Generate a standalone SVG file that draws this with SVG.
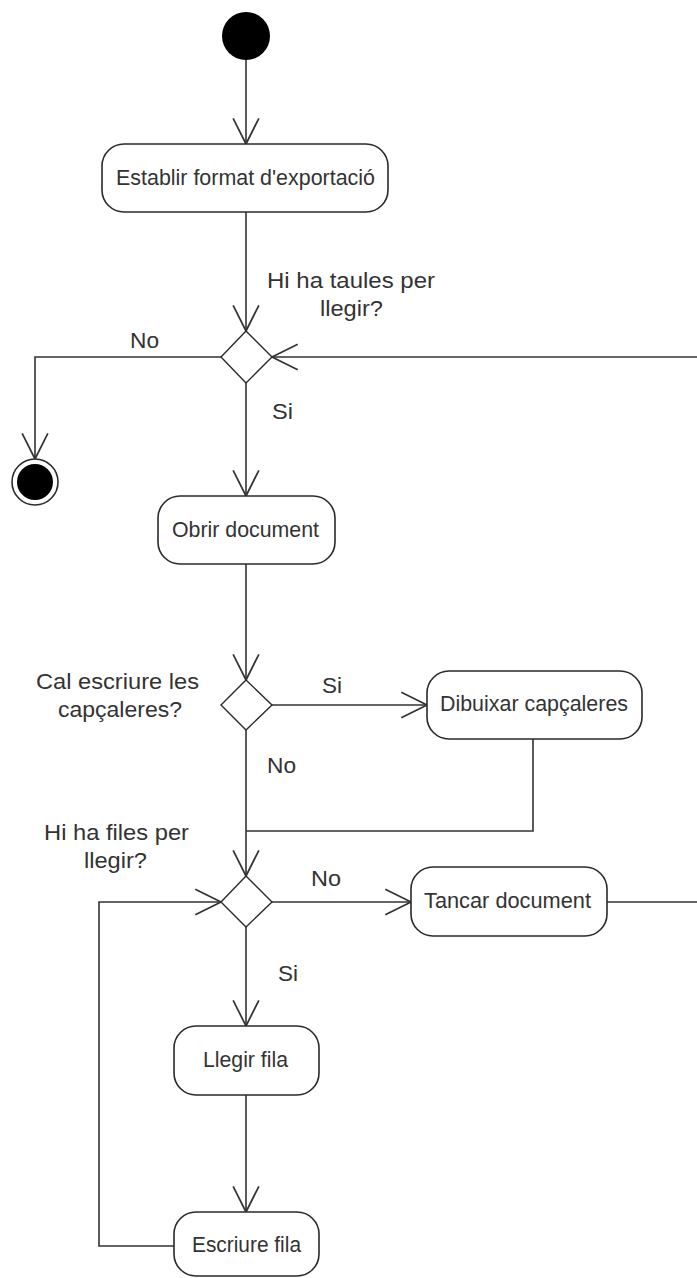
<svg xmlns="http://www.w3.org/2000/svg" width="697" height="1278" viewBox="0 0 697 1278">
  <style>
    .act { fill: #ffffff; stroke: #2a2a2a; stroke-width: 1.6; }
    .dec { fill: #ffffff; stroke: #2a2a2a; stroke-width: 1.4; }
    .edge { fill: none; stroke: #333333; stroke-width: 1.6; }
    text { font-family: "Liberation Sans", Arial, sans-serif; font-size: 22px; fill: #333333; }
  </style>
  <defs>
    <marker id="open" markerUnits="userSpaceOnUse" markerWidth="30" markerHeight="30" viewBox="-26 -14 28 28" refX="0" refY="0" orient="auto">
      <path d="M -24,-12 L 0,0 L -24,12" fill="none" stroke="#333333" stroke-width="1.6"/>
    </marker>
  </defs>

  <rect width="697" height="1278" fill="#ffffff"/>

  <!-- connectors -->
  <g id="connectors">
    <path class="edge" d="M246,60 V144" marker-end="url(#open)"/>
    <path class="edge" d="M246,212 V331" marker-end="url(#open)"/>
    <path class="edge" d="M221,357 H35 V459" marker-end="url(#open)"/>
    <path class="edge" d="M697,357 H272" marker-end="url(#open)"/>
    <path class="edge" d="M246,383 V496" marker-end="url(#open)"/>
    <path class="edge" d="M246,564 V680" marker-end="url(#open)"/>
    <path class="edge" d="M272,705 H427" marker-end="url(#open)"/>
    <path class="edge" d="M246,730 V876" marker-end="url(#open)"/>
    <path class="edge" d="M533,739 V831 H246"/>
    <path class="edge" d="M272,902 H411" marker-end="url(#open)"/>
    <path class="edge" d="M607,902 H697"/>
    <path class="edge" d="M246,927 V1026" marker-end="url(#open)"/>
    <path class="edge" d="M246,1095 V1212" marker-end="url(#open)"/>
    <path class="edge" d="M174,1246 H99 V902 H221" marker-end="url(#open)"/>
  </g>

  <!-- edge labels -->
  <g id="labels">
    <text x="267" y="288" textLength="168" lengthAdjust="spacingAndGlyphs">Hi ha taules per</text>
    <text x="320" y="316" textLength="63" lengthAdjust="spacingAndGlyphs">llegir?</text>
    <text x="130" y="348" textLength="29" lengthAdjust="spacingAndGlyphs">No</text>
    <text x="272" y="419" textLength="21" lengthAdjust="spacingAndGlyphs">Si</text>
    <text x="36" y="689" textLength="163" lengthAdjust="spacingAndGlyphs">Cal escriure les</text>
    <text x="58" y="717" textLength="124" lengthAdjust="spacingAndGlyphs">capçaleres?</text>
    <text x="322" y="693" textLength="20" lengthAdjust="spacingAndGlyphs">Si</text>
    <text x="267" y="773" textLength="29" lengthAdjust="spacingAndGlyphs">No</text>
    <text x="44" y="840" textLength="145" lengthAdjust="spacingAndGlyphs">Hi ha files per</text>
    <text x="84" y="868" textLength="63" lengthAdjust="spacingAndGlyphs">llegir?</text>
    <text x="311" y="886" textLength="30" lengthAdjust="spacingAndGlyphs">No</text>
    <text x="278" y="981" textLength="20" lengthAdjust="spacingAndGlyphs">Si</text>
  </g>

  <!-- start -->
  <g id="start">
    <circle cx="246" cy="36" r="24" fill="#000000"/>
  </g>

  <!-- end -->
  <g id="end">
    <circle cx="35" cy="482" r="23" fill="#ffffff" stroke="#2a2a2a" stroke-width="1.6"/>
    <circle cx="35" cy="482" r="18" fill="#000000"/>
  </g>

  <g id="establir">
    <rect class="act" x="102" y="144" width="286" height="68" rx="22"/>
    <text x="116" y="185" textLength="259" lengthAdjust="spacingAndGlyphs">Establir format d'exportació</text>
  </g>

  <g id="decisio-taules">
    <polygon class="dec" points="246,331 272,357 246,383 221,357"/>
  </g>

  <g id="obrir">
    <rect class="act" x="158" y="496" width="177" height="68" rx="22"/>
    <text x="172" y="537" textLength="147" lengthAdjust="spacingAndGlyphs">Obrir document</text>
  </g>

  <g id="decisio-capcaleres">
    <polygon class="dec" points="246,680 272,705 246,730 221,705"/>
  </g>

  <g id="dibuixar">
    <rect class="act" x="427" y="671" width="215" height="68" rx="22"/>
    <text x="440" y="711" textLength="188" lengthAdjust="spacingAndGlyphs">Dibuixar capçaleres</text>
  </g>

  <g id="decisio-files">
    <polygon class="dec" points="246,876 272,902 246,927 221,902"/>
  </g>

  <g id="tancar">
    <rect class="act" x="411" y="867" width="196" height="69" rx="22"/>
    <text x="424" y="908" textLength="167" lengthAdjust="spacingAndGlyphs">Tancar document</text>
  </g>

  <g id="llegir">
    <rect class="act" x="174" y="1026" width="145" height="69" rx="22"/>
    <text x="203" y="1067" textLength="85" lengthAdjust="spacingAndGlyphs">Llegir fila</text>
  </g>

  <g id="escriure">
    <rect class="act" x="174" y="1212" width="145" height="64" rx="22"/>
    <text x="192" y="1252" textLength="109" lengthAdjust="spacingAndGlyphs">Escriure fila</text>
  </g>
</svg>
